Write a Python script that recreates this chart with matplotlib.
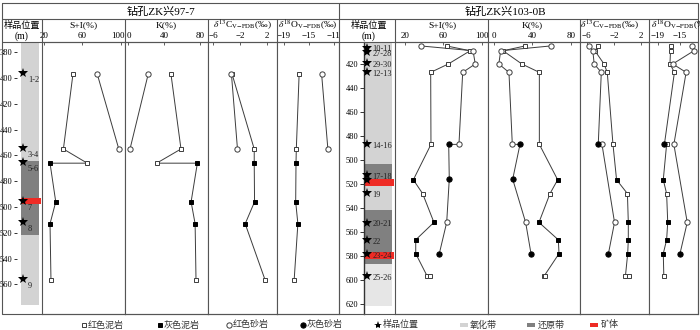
import numpy as np
import matplotlib
matplotlib.use('Agg')
import matplotlib.pyplot as plt
from matplotlib.transforms import ScaledTranslation

plt.rcParams['font.family'] = ['Liberation Serif', 'Noto Sans CJK SC']
plt.rcParams['mathtext.fontset'] = 'stix'

W, H = 700, 330          # figure size in px
TOP, BOT = 42, 314       # plot area top / bottom (px)

# ---------------- 钻孔ZK兴97-7 ----------------
zk97_star_depth = [396, 454, 465, 495, 512, 556]
zk97_star_label = ['1-2', '3-4', '5-6', '7', '8', '9']
zk97_zone = [(372, 464, 'ox'), (464, 522, 're'), (522, 576, 'ox')]
zk97_ore = [(493, 498)]

zk97_dep_sq = [397, 455, 466, 466, 496, 513, 557]
zk97_typ_sq = ['rm', 'rm', 'rm', 'gm', 'gm', 'gm', 'rm']
zk97_si_sq = [50, 40, 65, 26, 32, 26, 27]
zk97_k_sq = [47.5, 58.7, 31.5, 77, 70, 74.5, 75.5]
zk97_dep_ci = [397, 455]
zk97_typ_ci = ['rs', 'rs']
zk97_si_ci = [75.5, 98]
zk97_k_ci = [22, 1.7]

zk97_iso_dep_sq = [397, 455, 466, 496, 513, 557]
zk97_iso_typ_sq = ['rm', 'rm', 'gm', 'gm', 'gm', 'rm']
zk97_c_sq = [-3.2, 0.1, 0.1, 0.15, -1.25, 1.75]
zk97_o_sq = [-16.5, -16.95, -17.0, -17.05, -16.7, -17.3]
zk97_c_ci = [-3.3, -2.4]
zk97_o_ci = [-12.9, -11.9]

# ---------------- 钻孔ZK兴103-0B ----------------
zk103_star_depth = [406.3, 410, 419.5, 427, 486.7, 512.5, 516.7, 527.8, 552.2, 566.7, 578.3, 596.7]
zk103_star_label = ['10-11', '27-28', '29-30', '12-13', '14-16', '17-18', '', '19',
                    '20-21', '22', '23-24', '25-26']
zk103_zone = [(401, 503.3, 'ox'), (503.3, 521.7, 're'), (521.7, 541.7, 'ox'),
              (541.7, 586.7, 're'), (586.7, 622, 'ox2')]
zk103_ore = [(515.8, 521.7), (576.4, 582.5)]

zk103_dep_sq = [405, 409, 420, 427, 487, 516.5, 528, 552, 566.5, 578, 597, 597]
zk103_typ_sq = ['rm', 'rm', 'rm', 'rm', 'rm', 'gm', 'rm', 'gm', 'gm', 'gm', 'rm', 'rm']
zk103_si_sq = [63.5, 88, 65.2, 46.8, 47.1, 28.7, 38.4, 50.2, 31.2, 31.2, 43.3, 46.1]
zk103_k_sq = [32.3, 9.5, 29, 47.3, 47.3, 66.4, 58.4, 46.9, 67.1, 67.8, 52, 53]
zk103_dep_ci = [405, 409, 420, 427, 487, 487, 516, 552, 578]
zk103_typ_ci = ['rs', 'rs', 'rs', 'rs', 'rs', 'gs', 'gs', 'rs', 'gs']
zk103_si_ci = [36.7, 91, 93.3, 80.2, 76.3, 65.6, 66.2, 63.5, 55.8]
zk103_k_ci = [59, 7, 5, 15.6, 19.1, 27.1, 19.5, 33, 38.6]

zk103_c_sq = [-4.3, -4.8, -3.45, -2.97, -2.13, -1.6, 0.0, 0.13, 0.13, 0.04, -0.3, 0.2]
zk103_c_dep_ci = [405, 409, 420, 427, 487, 487, 552, 578]
zk103_c_typ_ci = ['rs', 'rs', 'rs', 'rs', 'gs', 'rs', 'rs', 'gs']
zk103_c_ci = [-5.7, -5.1, -4.9, -3.85, -4.3, -3.75, -1.9, -2.8]

zk103_o_dep_sq = [405, 409, 420, 427, 487, 487, 516.5, 528, 552, 566.5, 578, 597]
zk103_o_typ_sq = ['rm', 'rm', 'rm', 'rm', 'gs', 'rm', 'gm', 'rm', 'gm', 'gm', 'gm', 'rm']
zk103_o_sq = [-16.7, -16.7, -16.8, -16.0, -17.8, -17.4, -18.0, -17.4, -17.2, -17.4, -18.0, -17.9]
zk103_o_dep_ci = [405, 409, 420, 427, 487, 552, 578]
zk103_o_typ_ci = ['rs', 'rs', 'rs', 'rs', 'rs', 'rs', 'gs']
zk103_o_ci = [-12.9, -12.5, -16.3, -13.9, -16.1, -13.7, -15.0]

legend_keys = ['rm', 'gm', 'rs', 'gs', 'star', 'ox', 're', 'ore']
legend_names = ['红色泥岩', '灰色泥岩', '红色砂岩', '灰色砂岩', '样品位置', '氧化带', '还原带', '矿体']

ZONE_COL = {'ox': '#d3d3d3', 're': '#808080', 'ox2': '#e6e6e6', 'ore': '#ee2b25'}
LINE_COL = '#3c3c3c'
FRAME_COL = '#555555'
STYLE = {
    'rm': dict(marker='s', ms=3.2, mfc='white', mec=LINE_COL, mew=0.7),
    'gm': dict(marker='s', ms=3.2, mfc='black', mec='black', mew=0.7),
    'rs': dict(marker='o', ms=3.8, mfc='white', mec=LINE_COL, mew=0.7),
    'gs': dict(marker='o', ms=3.8, mfc='black', mec='black', mew=0.7),
}
D13C = r'$\delta^{13}$C$_{\mathrm{V{-}PDB}}$(‰)'
D18O = r'$\delta^{18}$O$_{\mathrm{V{-}PDB}}$(‰)'

fig = plt.figure(figsize=(W / 100, H / 100), dpi=100)


def add_ax(x0, x1):
    return fig.add_axes([x0 / W, 1 - BOT / H, (x1 - x0) / W, (BOT - TOP) / H])


def panel(x0, x1, xlim, ticks, ylim, paths, shift_last=0):
    ax = add_ax(x0, x1)
    ax.set_xlim(xlim)
    ax.set_ylim(ylim)
    ax.set_xticks(ticks)
    ax.set_yticks([])
    ax.xaxis.tick_top()
    ax.tick_params(axis='x', direction='in', length=2.5, width=0.6, pad=1.2,
                   labelsize=6.5, color='#444444')
    for s in ax.spines.values():
        s.set_linewidth(0.8)
        s.set_color(FRAME_COL)
    for dep, val, typ in paths:
        ax.plot(val, dep, color=LINE_COL, lw=0.7, zorder=2)
        dep, val, typ = np.array(dep), np.array(val), np.array(typ)
        for t, st in STYLE.items():
            m = typ == t
            if m.any():
                ax.plot(val[m], dep[m], ls='none', zorder=3, **st)
    if shift_last:
        lab = ax.get_xticklabels()[-1]
        lab.set_transform(lab.get_transform() +
                          ScaledTranslation(shift_last / 100, 0, fig.dpi_scale_trans))
    return ax


def column(x0, x1, ylim, ticks, spine_x, show_spine, sx0, sx1, zones, ores,
           stars, labels, star_x, lab_dx, lab_dy, tick_len):
    ax = add_ax(x0, x1)
    ax.set_facecolor('none')
    ax.set_xlim(x0, x1)
    ax.set_ylim(ylim)
    for k in ['top', 'right', 'bottom']:
        ax.spines[k].set_visible(False)
    ax.spines['left'].set_position(('data', spine_x))
    ax.spines['left'].set_visible(show_spine)
    ax.spines['left'].set_color('#333333')
    ax.spines['left'].set_linewidth(1.0)
    ax.set_xticks([])
    ax.set_yticks(ticks)
    ax.tick_params(axis='y', direction='out', length=tick_len, width=0.7,
                   pad=0.6, labelsize=6, color='#333333')
    for a, b, kind in zones:
        ax.fill_betweenx([a, b], sx0, sx1, color=ZONE_COL[kind], lw=0, zorder=1)
    for a, b in ores:
        ax.fill_betweenx([a, b], sx0, x1 - 1, color=ZONE_COL['ore'], lw=0, zorder=2)
    ax.plot(np.full(len(stars), star_x), stars, ls='none', marker='*', ms=7,
            color='black', mew=0, zorder=4)
    for d, lab in zip(stars, labels):
        ax.text(star_x + lab_dx, d + lab_dy, lab, fontsize=6, va='center',
                ha='left', color='#222222', zorder=5)
    return ax


# ---- left borehole ----
yl97 = (583, 372)
column(2, 42, yl97, range(380, 561, 20), 16.5, False, 21, 39.3, zk97_zone, zk97_ore,
       zk97_star_depth, zk97_star_label, 23.3, 4.5, 5.4, 2.2)
panel(42, 125, (17.6, 104.5), [20, 60, 100], yl97,
      [(zk97_dep_sq, zk97_si_sq, zk97_typ_sq), (zk97_dep_ci, zk97_si_ci, zk97_typ_ci)],
      shift_last=-3)
panel(125, 208, (-3.9, 88.9), [0, 40, 80], yl97,
      [(zk97_dep_sq, zk97_k_sq, zk97_typ_sq), (zk97_dep_ci, zk97_k_ci, zk97_typ_ci)])
panel(208, 277, (-6.8, 3.5), [-6, -2, 2], yl97,
      [(zk97_iso_dep_sq, zk97_c_sq, zk97_iso_typ_sq), (zk97_dep_ci, zk97_c_ci, zk97_typ_ci)])
panel(277, 339, (-20.04, -10.12), [-19, -15, -11], yl97,
      [(zk97_iso_dep_sq, zk97_o_sq, zk97_iso_typ_sq), (zk97_dep_ci, zk97_o_ci, zk97_typ_ci)])

# ---- right borehole ----
yl103 = (628.3, 401.7)
column(339, 395, yl103, range(420, 621, 20), 363.5, True, 365, 391.7, zk103_zone,
       zk103_ore, zk103_star_depth, zk103_star_label, 366.7, 6, 1.5, 3)
panel(395, 488, (9.57, 106.6), [20, 60, 100], yl103,
      [(zk103_dep_sq, zk103_si_sq, zk103_typ_sq), (zk103_dep_ci, zk103_si_ci, zk103_typ_ci)])
panel(488, 580, (-6.26, 89.7), [0, 40, 80], yl103,
      [(zk103_dep_sq, zk103_k_sq, zk103_typ_sq), (zk103_dep_ci, zk103_k_ci, zk103_typ_ci)])
panel(580, 649, (-6.99, 3.18), [-6, -2, 2], yl103,
      [(zk103_dep_sq, zk103_c_sq, zk103_typ_sq), (zk103_c_dep_ci, zk103_c_ci, zk103_c_typ_ci)])
panel(649, 697.5, (-20.56, -11.86), [-19, -15], yl103,
      [(zk103_o_dep_sq, zk103_o_sq, zk103_o_typ_sq), (zk103_o_dep_ci, zk103_o_ci, zk103_o_typ_ci)])

# ---- overlay: frame, headers, legend (px coords) ----
ov = fig.add_axes([0, 0, 1, 1], zorder=10)
ov.set_xlim(0, W)
ov.set_ylim(H, 0)
ov.axis('off')
fl = dict(color=FRAME_COL, lw=0.8, solid_capstyle='butt')
ov.plot([2, 697.5, 697.5, 2, 2], [2.7, 2.7, BOT, BOT, 2.7], **fl)
ov.plot([2, 697.5], [19.3, 19.3], **fl)
ov.plot([2, 697.5], [TOP, TOP], **fl)
ov.plot([339, 339], [2.7, BOT], **fl)
for x in [42, 125, 208, 277, 395, 488, 580, 649]:
    ov.plot([x, x], [19.3, TOP], **fl)

ov.text(161, 11.5, '钻孔ZK兴97-7', fontsize=8, ha='center', va='center')
ov.text(505, 11.5, '钻孔ZK兴103-0B', fontsize=8, ha='center', va='center')
for cx in [21.5, 369]:
    ov.text(cx, 25.5, '样品位置', fontsize=6.6, ha='center', va='center')
    ov.text(cx, 36, '(m)', fontsize=7, ha='center', va='center')
heads = [(83.5, 'S+I(%)', 'center'), (166.5, 'K(%)', 'center'), (242.5, D13C, 'center'),
         (308, D18O, 'center'), (442, 'S+I(%)', 'center'), (532, 'K(%)', 'center'),
         (609, D13C, 'center'), (651, D18O, 'left')]
for x, t, ha in heads:
    ov.text(x, 25, t, fontsize=6.8, ha=ha, va='center')

# legend
lx = [84, 160, 229.3, 302.7, 378, 463.5, 531, 594]
ly = 325
for x, key, name in zip(lx, legend_keys, legend_names):
    if key in STYLE:
        ov.plot(x, ly, ls='none', **STYLE[key])
        tx = x + 3.5
    elif key == 'star':
        ov.plot(x, ly, ls='none', marker='*', ms=6, color='black', mew=0)
        tx = x + 5
    else:
        ov.fill_between([x - 4, x + 4], ly - 2, ly + 2, color=ZONE_COL[key], lw=0)
        tx = x + 6.5
    ov.text(tx, ly, name, fontsize=6.5, ha='left', va='center', color='#333333')

fig.savefig('out.png', dpi=100)
